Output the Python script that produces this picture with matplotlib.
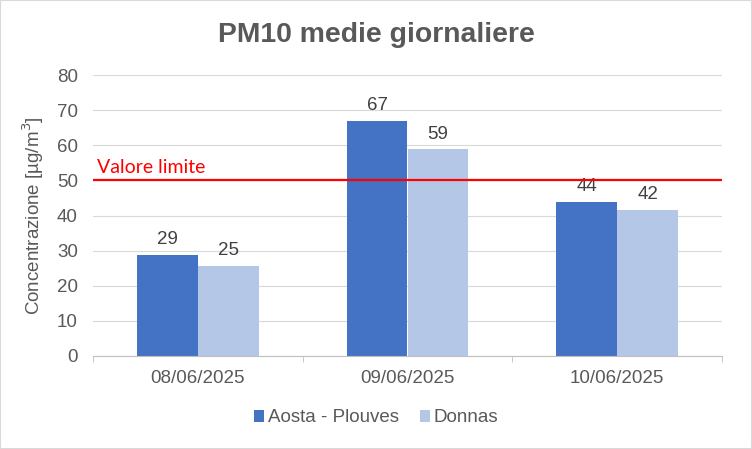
import numpy as np
import matplotlib.pyplot as plt
from matplotlib.patches import Rectangle

dates = ["08/06/2025", "09/06/2025", "10/06/2025"]
aosta = [28.8, 66.8, 43.9]
donnas = [25.7, 58.8, 41.6]
aosta_labels = ["29", "67", "44"]
donnas_labels = ["25", "59", "42"]
limite = 50

plt.rcParams['font.family'] = ['Liberation Sans', 'DejaVu Sans']

fig = plt.figure(figsize=(7.52, 4.49), dpi=100)
ax = fig.add_axes([93 / 752, 1 - 356 / 449, 629 / 752, 281 / 449])

x = np.arange(len(dates))
w = 0.29
b1 = ax.bar(x - w / 2, aosta, w, color="#4472C4", label="Aosta - Plouves", zorder=2)
b2 = ax.bar(x + w / 2, donnas, w, color="#B4C7E7", label="Donnas", zorder=2)

for bars, labels in [(b1, aosta_labels), (b2, donnas_labels)]:
    for rect, lab in zip(bars, labels):
        ax.annotate(lab, (rect.get_x() + rect.get_width() / 2, rect.get_height()),
                    xytext=(0, 5), textcoords="offset points",
                    ha="center", va="bottom", fontsize=13.5, color="#404040")

ax.axhline(limite, color="#FF0000", lw=1.6, zorder=3)
ax.text(-0.48, limite + 1.2, "Valore limite", color="#FF0000", fontsize=14,
        family=["Lato", "DejaVu Sans"], ha="left", va="bottom")

ax.set_xlim(-0.5, 2.5)
ax.set_ylim(0, 80)
ax.set_yticks(range(0, 81, 10))
ax.set_xticks(x)
ax.set_xticklabels(dates)
ax.set_xticks([-0.5, 0.5, 1.5, 2.5], minor=True)
ax.tick_params(axis="x", which="major", length=0, pad=10, labelsize=13.5, labelcolor="#595959")
ax.tick_params(axis="x", which="minor", length=4, color="#BFBFBF")
ax.tick_params(axis="y", length=0, pad=11, labelsize=13.5, labelcolor="#595959")
ax.yaxis.grid(True, color="#D9D9D9", lw=0.8, zorder=0)
ax.set_axisbelow(True)
for s in ["top", "right", "left"]:
    ax.spines[s].set_visible(False)
ax.spines["bottom"].set_color("#BFBFBF")
ax.spines["bottom"].set_linewidth(0.8)

ax.set_ylabel("Concentrazione [µg/m$^3$]", fontsize=13.5, color="#595959", labelpad=8)

fig.text(0.5, 1 - 35 / 449, "PM10 medie giornaliere", ha="center", va="center",
         fontsize=20.4, fontweight="bold", color="#595959")

fig.legend(handles=[b1, b2], loc="center", bbox_to_anchor=(0.5, 1 - 418 / 449),
           ncol=2, frameon=False, fontsize=13.5, labelcolor="#595959",
           handlelength=0.55, handleheight=0.55, handletextpad=0.2, columnspacing=1.1)

fig.patches.append(Rectangle((0, 0), 1, 1, transform=fig.transFigure, fill=False,
                             edgecolor="#D9D9D9", lw=1.5))

fig.savefig("out.png", dpi=100)
